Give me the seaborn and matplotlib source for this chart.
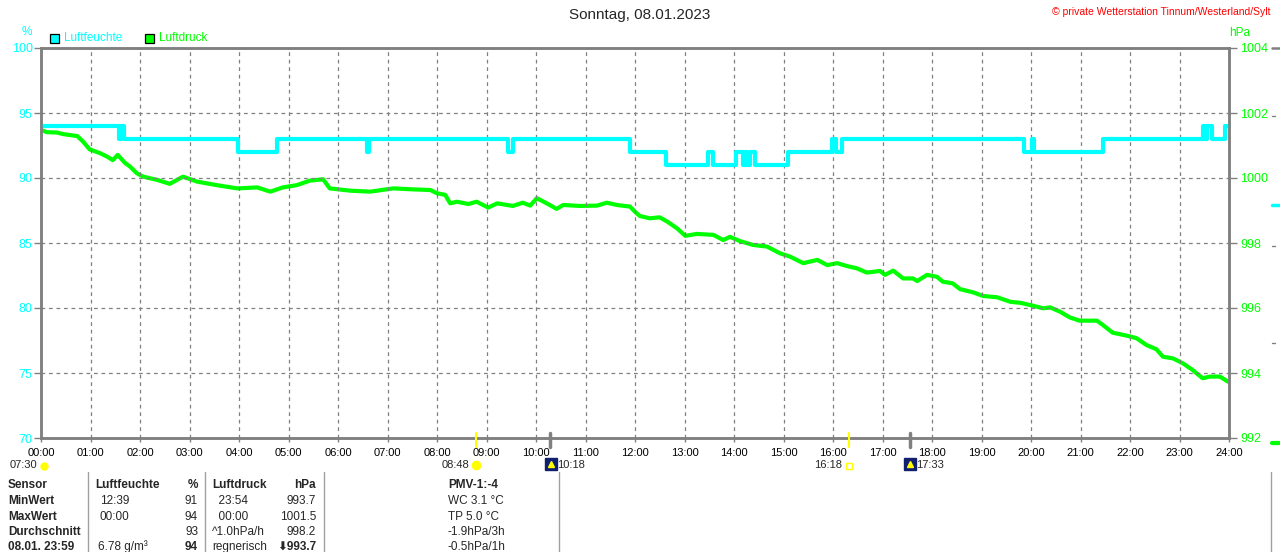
import pandas as pd
import matplotlib.pyplot as plt
import seaborn as sns
from matplotlib.lines import Line2D
from matplotlib.patches import Rectangle

# Luftfeuchte (%) - step values
hum_times = ['00:00', '01:35', '01:37', '01:41', '03:59', '04:46', '06:35', '06:37',
             '09:26', '09:32', '11:54', '12:38', '13:29', '13:35', '14:02', '14:11',
             '14:13', '14:16', '14:19', '14:25', '15:05', '15:59', '16:04', '16:11',
             '19:51', '20:01', '20:04', '21:27', '23:29', '23:31', '23:33', '23:39',
             '23:55', '24:00']
hum_values = [94, 93, 94, 93, 92, 93, 92, 93,
              92, 93, 92, 91, 92, 91, 92, 91,
              92, 91, 92, 91, 92, 93, 92, 93,
              92, 93, 92, 93, 94, 93, 94, 93,
              94, 94]

# Luftdruck (hPa)
press_times = ['00:00', '00:07', '00:19', '00:27', '00:44', '00:51', '00:59', '01:12',
               '01:20', '01:27', '01:33', '01:42', '01:48', '01:56', '02:04', '02:21',
               '02:36', '02:52', '03:09', '03:33', '03:58', '04:22', '04:38', '04:53',
               '05:10', '05:26', '05:42', '05:50', '06:15', '06:39', '07:07', '07:31',
               '07:52', '08:00', '08:10', '08:16', '08:24', '08:38', '08:48', '09:02',
               '09:13', '09:32', '09:44', '09:53', '10:01', '10:13', '10:25', '10:33',
               '10:53', '11:14', '11:26', '11:38', '11:54', '12:00', '12:06', '12:18',
               '12:30', '12:39', '12:51', '13:01', '13:15', '13:35', '13:47', '13:55',
               '14:07', '14:23', '14:40', '14:56', '15:08', '15:24', '15:41', '15:53',
               '16:05', '16:17', '16:29', '16:41', '16:57', '17:03', '17:13', '17:25',
               '17:37', '17:42', '17:54', '18:06', '18:13', '18:25', '18:34', '18:50',
               '19:02', '19:19', '19:35', '19:47', '19:59', '20:15', '20:23', '20:35',
               '20:47', '20:59', '21:20', '21:27', '21:39', '21:56', '22:08', '22:20',
               '22:32', '22:40', '22:52', '23:04', '23:16', '23:28', '23:37', '23:49',
               '23:59']
press_values = [1001.48, 1001.41, 1001.40, 1001.35, 1001.29, 1001.12, 1000.88, 1000.76,
                1000.66, 1000.55, 1000.71, 1000.46, 1000.35, 1000.15, 1000.04, 999.94,
                999.82, 1000.04, 999.89, 999.78, 999.68, 999.71, 999.58, 999.71,
                999.78, 999.92, 999.96, 999.68, 999.61, 999.58, 999.68, 999.65,
                999.63, 999.53, 999.48, 999.22, 999.27, 999.20, 999.27, 999.09,
                999.22, 999.14, 999.24, 999.15, 999.38, 999.22, 999.05, 999.17,
                999.14, 999.15, 999.24, 999.17, 999.12, 998.96, 998.83, 998.76,
                998.79, 998.66, 998.45, 998.22, 998.28, 998.25, 998.09, 998.19,
                998.06, 997.94, 997.89, 997.68, 997.58, 997.38, 997.48, 997.32,
                997.38, 997.29, 997.22, 997.09, 997.14, 997.02, 997.15, 996.91,
                996.91, 996.83, 997.02, 996.96, 996.81, 996.76, 996.58, 996.48,
                996.37, 996.33, 996.19, 996.16, 996.09, 995.99, 996.02, 995.89,
                995.71, 995.61, 995.61, 995.48, 995.24, 995.15, 995.07, 994.86,
                994.73, 994.50, 994.45, 994.30, 994.09, 993.84, 993.89, 993.89,
                993.73]

hour_labels = ['%02d:00' % h for h in range(25)]
hum_ticks = [100, 95, 90, 85, 80, 75, 70]
press_ticks = [1004, 1002, 1000, 998, 996, 994, 992]

# table below the chart
table_rows = [
    ['Sensor', 'Luftfeuchte', '', '%', 'Luftdruck', 'hPa', 'PMV-1:-4'],
    ['MinWert', '', '12:39', '91', '  23:54', '993.7', 'WC 3.1 °C'],
    ['MaxWert', '', '00:00', '94', '  00:00', '1001.5', 'TP 5.0 °C'],
    ['Durchschnitt', '', '', '93', '^1.0hPa/h', '998.2', '-1.9hPa/3h'],
    ['08.01. 23:59', '', '6.78 g/m³', '94', 'regnerisch', '993.7', '-0.5hPa/1h'],
]


def to_hours(t):
    h, m = t.split(':')
    return int(h) + int(m) / 60


hum_df = pd.DataFrame({'t': [to_hours(t) for t in hum_times], 'v': hum_values})
press_df = pd.DataFrame({'t': [to_hours(t) for t in press_times], 'v': press_values})

CYAN = '#00ffff'
GREEN = '#00ff00'
GREY = '#808080'
W, H = 1280, 552

sns.set_theme(style='white')
plt.rcParams['font.family'] = ['Liberation Sans', 'DejaVu Sans']


def px(x, y):
    return x / W, 1 - y / H


fig = plt.figure(figsize=(12.8, 5.52), dpi=100)
ax = fig.add_axes([41 / W, 1 - 438 / H, (1229 - 41) / W, (438 - 48) / H])
ax2 = ax.twinx()

sns.lineplot(data=press_df, x='t', y='v', ax=ax2, color=GREEN, linewidth=3,
             estimator=None, sort=False)
sns.lineplot(data=hum_df, x='t', y='v', ax=ax, color=CYAN, linewidth=3,
             estimator=None, sort=False, drawstyle='steps-post')
ax.set_zorder(ax2.get_zorder() + 1)
ax.patch.set_visible(False)

ax.set_xlim(0, 24)
ax.set_ylim(70, 100)
ax2.set_ylim(992, 1004)
ax.set_xticks(range(25))
ax.set_xticklabels(hour_labels)
ax.set_yticks(hum_ticks)
ax2.set_yticks(press_ticks)
ax.set_xlabel('')
ax.set_ylabel('')
ax2.set_xlabel('')
ax2.set_ylabel('')

ax.grid(True, color=GREY, linestyle=(0, (3, 3)), linewidth=0.9)
ax2.grid(False)
for a in (ax, ax2):
    for s in a.spines.values():
        s.set_color(GREY)
        s.set_linewidth(1.8)
ax.tick_params(axis='x', colors='black', labelsize=8, length=3, width=1,
               color=GREY, pad=4, bottom=True)
ax.tick_params(axis='y', labelcolor=CYAN, labelsize=9, length=5, width=1,
               color=GREY, pad=1, left=True)
ax2.tick_params(axis='y', labelcolor=GREEN, labelsize=9, length=6, width=1,
                color=GREY, pad=2, right=True)

# titles and units
fig.text(*px(640, 15), 'Sonntag, 08.01.2023', ha='center', va='center', fontsize=11)
fig.text(*px(1270, 12), '© private Wetterstation Tinnum/Westerland/Sylt', ha='right',
         va='center', fontsize=7.5, color='red')
fig.text(*px(27, 32), '%', ha='center', va='center', fontsize=8.5, color=CYAN)
fig.text(*px(1240, 33), 'hPa', ha='center', va='center', fontsize=8.5, color=GREEN)

# legend
for x0, col, label in [(50, CYAN, 'Luftfeuchte'), (145, GREEN, 'Luftdruck')]:
    fig.add_artist(Rectangle(px(x0, 43), 9 / W, 9 / H, facecolor=col, edgecolor='black',
                             linewidth=0.9, transform=fig.transFigure))
    fig.text(*px(x0 + 14, 38), label, ha='left', va='center', fontsize=8.5, color=col)

# sun / moon markers below the axis
MY = 465
for x0, col, lw in [(476, '#ffff00', 1.5), (849, '#ffff00', 1.5), (550, GREY, 2.5), (910, GREY, 2.5)]:
    fig.add_artist(Line2D([x0 / W, x0 / W], [1 - 433 / H, 1 - 447 / H], color=col,
                          linewidth=lw, transform=fig.transFigure))
fig.text(*px(37, MY), '07:30', ha='right', va='center', fontsize=8)
fig.add_artist(Line2D([44 / W], [1 - (MY + 1) / H], marker='o', markersize=5, color='#ffff00',
                      transform=fig.transFigure))
fig.text(*px(469, MY), '08:48', ha='right', va='center', fontsize=8)
fig.add_artist(Line2D([476 / W], [1 - MY / H], marker='o', markersize=6, color='#ffff00',
                      transform=fig.transFigure))
fig.text(*px(842, MY), '16:18', ha='right', va='center', fontsize=8)
fig.add_artist(Line2D([849 / W], [1 - (MY + 1) / H], marker='s', markersize=4, markerfacecolor='none',
                      markeredgecolor='#ffff00', linestyle='none', transform=fig.transFigure))
for x0, label in [(551, '10:18'), (910, '17:33')]:
    fig.add_artist(Line2D([x0 / W], [1 - (MY - 1) / H], marker='s', markersize=8, color='#10206e',
                          linestyle='none', transform=fig.transFigure))
    fig.add_artist(Line2D([x0 / W], [1 - (MY - 1) / H], marker='^', markersize=4, color='#ffff00',
                          linestyle='none', transform=fig.transFigure))
    fig.text(*px(x0 + 6, MY), label, ha='left', va='center', fontsize=8)

# table
for x0 in [88, 205, 324, 559, 1271]:
    fig.add_artist(Line2D([x0 / W, x0 / W], [1 - 472 / H, 0], color='#a0a0a0',
                          linewidth=1, transform=fig.transFigure))
row_y = [485, 501, 517, 532, 547]
for i, row in enumerate(table_rows):
    y = row_y[i]
    bold_all = i == 0
    fig.text(*px(8, y), row[0], ha='left', va='center', fontsize=8.5, fontweight='bold')
    fig.text(*px(95, y), row[1], ha='left', va='center', fontsize=8.5, fontweight='bold')
    fig.text(*px(100 if i < 4 else 98, y), row[2], ha='left', va='center', fontsize=8.5)
    fig.text(*px(198, y), row[3], ha='right', va='center', fontsize=8.5,
             fontweight='bold' if i in (0, 4) else 'normal')
    fig.text(*px(212, y), row[4], ha='left', va='center', fontsize=8.5,
             fontweight='bold' if bold_all else 'normal')
    fig.text(*px(316, y), ('⬇' if i == 4 else '') + row[5], ha='right', va='center',
             fontsize=8.5, fontweight='bold' if i in (0, 4) else 'normal',
             family=['Liberation Sans', 'DejaVu Sans'])
    fig.text(*px(448, y), row[6], ha='left', va='center', fontsize=8.5,
             fontweight='bold' if bold_all else 'normal')

# edge of a third axis cut off at the right border
fig.add_artist(Line2D([1272 / W, 1], [1 - 48 / H, 1 - 48 / H], color=GREY, linewidth=1.8,
                      transform=fig.transFigure))
for y0 in [116, 246, 343]:
    fig.add_artist(Line2D([1272 / W, 1275 / W], [1 - y0 / H] * 2, color=GREY, linewidth=1,
                          transform=fig.transFigure))
fig.add_artist(Line2D([1272 / W, 1], [1 - 205 / H] * 2, color=CYAN, linewidth=2.5,
                      transform=fig.transFigure))
fig.add_artist(Line2D([1272 / W, 1], [1 - 443 / H] * 2, color=GREEN, linewidth=3,
                      transform=fig.transFigure))

fig.savefig('out.png', dpi=100)
